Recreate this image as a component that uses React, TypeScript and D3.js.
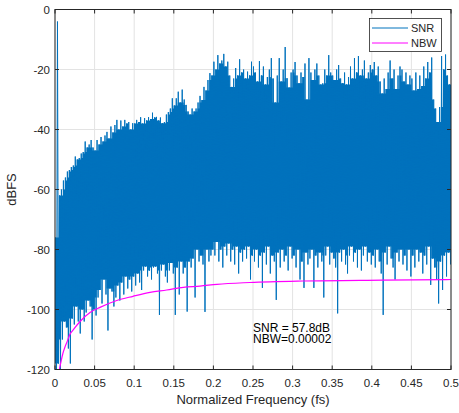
import React, { useEffect, useRef } from "react";
import * as d3 from "d3";

// spectrum: one peak and one trough per 0.0025 fs bin
const binWidth = 0.0025;

const peakDb = [
  -76, -4, -62, -60, -57, -56, -54, -53.5, -52.5, -52, -49, -50, -49.5, -48, -47.5, -44, -46, -45, -43.5, -46,
  -47, -43.5, -45, -42.5, -44, -42, -40.8, -43, -39, -41, -38.5, -36.8, -40, -37, -39, -36.8, -38, -37.5, -40, -37.9,
  -38, -36.8, -37.5, -35.9, -38, -36.2, -37, -35.9, -36.5, -34.4, -36, -35.8, -37, -36, -37.9, -37.5, -35, -34.2, -33, -29.6,
  -32, -29.6, -27.4, -31, -26.7, -30, -31.8, -34, -35, -33, -34, -33, -31, -28.8, -30.2, -25.8, -27, -23.5, -21.2, -22,
  -17.4, -20, -15.2, -18, -17, -14.8, -19, -17.4, -22, -25.8, -23, -19.5, -22, -16.6, -21, -20, -23, -20.7, -22, -17.4,
  -19, -21, -24, -17.2, -22, -19, -25, -22.5, -20, -16.2, -23, -31, -22, -16.2, -24, -20, -12.5, -22.9, -26, -21,
  -20, -17.5, -22, -24.6, -21, -22.5, -18, -30, -16.2, -21, -23.5, -20, -18, -22, -25, -24.6, -20, -22, -15.2, -21,
  -22, -23.5, -20, -18.5, -23, -24.6, -21, -25, -22.5, -19, -23, -16.2, -21, -15.5, -22, -20, -17, -23, -21, -18.5,
  -20, -17.5, -22, -19, -24, -28, -23, -26.5, -21, -17, -23, -20, -26.5, -22, -19, -20, -24, -21, -25, -22,
  -23, -27, -21, -26.5, -22, -25.5, -19, -23, -17.5, -21, -16, -30, -33, -37.5, -32.5, -15.5, -20, -15, -22, -25,
];

const troughDb = [
  -125, -118, -122, -110, -104, -106, -113, -118, -103, -105, -99, -104, -108, -100, -104, -101, -97, -99, -110, -100,
  -102, -96, -93.5, -98, -90, -95, -107, -93, -94, -99, -96, -92, -97, -91, -95, -89, -93, -90, -94, -89,
  -92, -88, -91, -93.5, -87, -85.7, -89, -87, -90, -86, -85.7, -88, -101.8, -87, -85, -89, -91, -87, -84.5, -88,
  -101.8, -86, -95, -84, -88, -86, -100.7, -84, -86, -83, -96, -80, -84, -82, -85, -100.8, -80, -84, -82, -80,
  -82, -77.5, -84, -80, -86, -79, -82, -78, -84, -80, -85, -79, -88, -81, -84, -80, -83, -79, -90, -82,
  -84, -80, -86, -82, -92.8, -81, -85, -79, -88, -82, -84, -96.8, -81, -86, -80, -84, -82, -87, -79, -83,
  -82, -86, -80, -90, -84, -92.8, -81, -85, -83, -80, -92.8, -82, -86, -81, -84, -96, -82, -79, -85, -81,
  -83, -86, -101.3, -81, -84, -80, -85, -88, -82, -79, -84, -81, -86, -80, -87, -82, -79, -84, -81, -85,
  -82, -86, -80, -84, -88, -101.8, -81, -85, -79, -83, -86, -90, -81, -84, -80, -85, -82, -87, -80, -89,
  -82, -86, -80, -84, -81, -88, -82, -85, -79, -91.8, -83, -86, -90, -98, -84, -93.5, -82, -89, -81, -85,
];

// noise bandwidth curve
const nbwFreq = [0.0055, 0.0063, 0.0101, 0.0126, 0.0152, 0.019, 0.0215, 0.0316, 0.0442, 0.0568, 0.078, 0.0985, 0.12, 0.141, 0.162, 0.183, 0.2045, 0.246, 0.313, 0.414, 0.5];
const nbwDb = [-120, -119, -114.5, -112.5, -110.8, -108.2, -107.3, -104, -101, -99.3, -97, -95.6, -94.3, -93.5, -92.6, -92.2, -91.6, -91, -90.5, -90.2, -90];

const xTicks = [0, 0.05, 0.1, 0.15, 0.2, 0.25, 0.3, 0.35, 0.4, 0.45, 0.5];
const xTickLabels = ["0", "0.05", "0.1", "0.15", "0.2", "0.25", "0.3", "0.35", "0.4", "0.45", "0.5"];
const yTicks = [0, -20, -40, -60, -80, -100, -120];
const yTickLabels = ["0", "-20", "-40", "-60", "-80", "-100", "-120"];

const seriesNames = ["SNR", "NBW"];
const seriesColors = ["#0072BD", "#FF00FF"];
const annotation = ["SNR = 57.8dB", "NBW=0.00002"];

const W = 459;
const H = 413;
const margin = { top: 9.5, right: 8, bottom: 43.5, left: 55 };
const font = "'Liberation Sans', Arial, Helvetica, sans-serif";
const axisColor = "#262626";

type Bin = { f: number; hi: number; lo: number };

export default function App() {
  const ref = useRef<SVGSVGElement>(null);

  useEffect(() => {
    const svg = d3.select(ref.current);
    svg.selectAll("*").remove();

    const x = d3.scaleLinear().domain([0, 0.5]).range([margin.left, W - margin.right]);
    const y = d3.scaleLinear().domain([-120, 0]).range([H - margin.bottom, margin.top]);
    const [x0, x1] = x.range();
    const [y0, y1] = y.range();

    svg.append("defs").append("clipPath").attr("id", "plotclip")
      .append("rect").attr("x", x0).attr("y", y1).attr("width", x1 - x0).attr("height", y0 - y1);

    svg.append("rect").attr("x", x0).attr("y", y1).attr("width", x1 - x0).attr("height", y0 - y1).attr("fill", "#fff");

    // grid
    const grid = svg.append("g").attr("stroke", "#e3e3e3").attr("stroke-width", 1);
    xTicks.forEach((t) => {
      grid.append("line").attr("x1", x(t)).attr("x2", x(t)).attr("y1", y0).attr("y2", y1);
    });
    yTicks.forEach((t) => {
      grid.append("line").attr("x1", x0).attr("x2", x1).attr("y1", y(t)).attr("y2", y(t));
    });

    const plot = svg.append("g").attr("clip-path", "url(#plotclip)");

    // solid body of the spectrum: lower of neighbouring peaks, higher of neighbouring troughs
    const n = peakDb.length;
    const bins: Bin[] = [];
    peakDb.forEach((p, i) => {
      const a = Math.max(0, i - 1);
      const b = Math.min(n - 1, i + 1);
      const hi = Math.min(peakDb[a], p, peakDb[b]);
      const lo = Math.max(troughDb[a], troughDb[i], troughDb[b]);
      bins.push({ f: i * binWidth, hi, lo });
      bins.push({ f: (i + 1) * binWidth, hi, lo });
    });
    const area = d3.area<Bin>().x((d) => x(d.f)).y0((d) => y(d.lo)).y1((d) => y(d.hi));
    plot.append("path").attr("d", area(bins)).attr("fill", seriesColors[0]);

    // spikes: zigzag through every peak and trough
    const pts: [number, number][] = [];
    peakDb.forEach((p, i) => {
      pts.push([i * binWidth + binWidth * 0.25, p]);
      pts.push([i * binWidth + binWidth * 0.75, troughDb[i]]);
    });
    const line = d3.line<[number, number]>().x((d) => x(d[0])).y((d) => y(d[1]));
    plot.append("path").attr("d", line(pts)).attr("fill", "none")
      .attr("stroke", seriesColors[0]).attr("stroke-width", 1);

    const nbwLine = d3.line<number>().x((d) => x(d)).y((_, i) => y(nbwDb[i])).curve(d3.curveMonotoneX);
    plot.append("path").attr("d", nbwLine(nbwFreq)).attr("fill", "none")
      .attr("stroke", seriesColors[1]).attr("stroke-width", 1.2);

    // box + ticks
    const ax = svg.append("g").attr("stroke", axisColor).attr("stroke-width", 1).attr("fill", "none");
    ax.append("rect").attr("x", x0).attr("y", y1).attr("width", x1 - x0).attr("height", y0 - y1);
    xTicks.forEach((t) => {
      ax.append("line").attr("x1", x(t)).attr("x2", x(t)).attr("y1", y0).attr("y2", y0 - 4);
      ax.append("line").attr("x1", x(t)).attr("x2", x(t)).attr("y1", y1).attr("y2", y1 + 4);
    });
    yTicks.forEach((t) => {
      ax.append("line").attr("x1", x0).attr("x2", x0 + 4).attr("y1", y(t)).attr("y2", y(t));
      ax.append("line").attr("x1", x1).attr("x2", x1 - 4).attr("y1", y(t)).attr("y2", y(t));
    });

    const labels = svg.append("g").attr("font-family", font).attr("font-size", 11.5).attr("fill", axisColor);
    xTicks.forEach((t, i) => {
      labels.append("text").attr("x", x(t)).attr("y", y0 + 17).attr("text-anchor", "middle").text(xTickLabels[i]);
    });
    yTicks.forEach((t, i) => {
      labels.append("text").attr("x", x0 - 5).attr("y", y(t) + 4).attr("text-anchor", "end").text(yTickLabels[i]);
    });
    labels.append("text").attr("x", (x0 + x1) / 2).attr("y", y0 + 34).attr("text-anchor", "middle")
      .attr("font-size", 13).text("Normalized Frequency (fs)");
    labels.append("text").attr("transform", `translate(16,${(y0 + y1) / 2}) rotate(-90)`)
      .attr("text-anchor", "middle").attr("font-size", 13).text("dBFS");

    // annotation
    const ann = svg.append("g").attr("font-family", font).attr("font-size", 12).attr("fill", "#000");
    annotation.forEach((s, i) => {
      ann.append("text").attr("x", 253).attr("y", 332 + i * 10.5).text(s);
    });

    // legend
    const lg = svg.append("g").attr("font-family", font).attr("font-size", 11);
    lg.append("rect").attr("x", 369.5).attr("y", 18.5).attr("width", 72).attr("height", 33)
      .attr("fill", "#fff").attr("stroke", axisColor).attr("stroke-width", 0.8);
    seriesNames.forEach((name, i) => {
      const ly = 28 + i * 15;
      lg.append("line").attr("x1", 372).attr("x2", 408).attr("y1", ly).attr("y2", ly)
        .attr("stroke", seriesColors[i]).attr("stroke-width", 1);
      lg.append("text").attr("x", 411).attr("y", ly + 4).attr("fill", axisColor).text(name);
    });
  }, []);

  return (
    <svg
      ref={ref}
      width={W}
      height={H}
      style={{ position: "absolute", left: 0, top: 0, background: "#fff" }}
    />
  );
}
